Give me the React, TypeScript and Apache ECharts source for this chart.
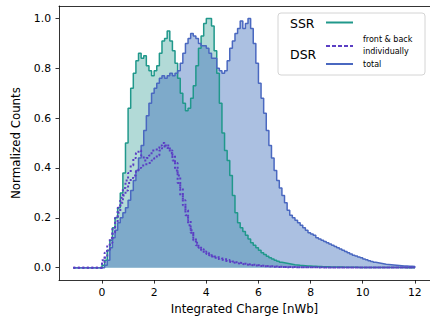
import React, { useEffect, useRef } from "react";
import * as echarts from "echarts";

// Histogram bins: left edge of first bin and bin width (nWb)
const BIN_START = -1.1;
const BIN_WIDTH = 0.1;

// SSR normalized counts, bins from -1.1 to 12.0
const SSR = [
  0, 0, 0, 0, 0, 0, 0, 0, 0, 0, 0,
  0.01, 0.03, 0.07, 0.11, 0.16, 0.2, 0.24, 0.3, 0.38, 0.5,
  0.64, 0.72, 0.78, 0.83, 0.86, 0.84, 0.85, 0.81, 0.79, 0.77,
  0.79, 0.81, 0.86, 0.91, 0.92, 0.95, 0.91, 0.87, 0.82, 0.76,
  0.7, 0.66, 0.63, 0.64, 0.68, 0.73, 0.81, 0.88, 0.93, 0.98,
  1.0, 1.0, 0.97, 0.87, 0.78, 0.66, 0.54, 0.47, 0.43, 0.37,
  0.29, 0.22, 0.18, 0.16, 0.145, 0.13, 0.115, 0.1, 0.09, 0.08,
  0.07, 0.06, 0.053, 0.046, 0.04, 0.035, 0.03, 0.026, 0.022, 0.02,
  0.018, 0.016, 0.014, 0.012, 0.011, 0.01, 0.009, 0.008, 0.007, 0.007,
  0.006, 0.006, 0.005, 0.005, 0.004, 0.004, 0.004, 0.003, 0.003, 0.003,
  0.003, 0.003, 0.002, 0.002, 0.002, 0.002, 0.002, 0.002, 0.001, 0.001,
  0.001, 0.001, 0.001, 0.001, 0.001, 0.001, 0.001, 0.001, 0.001, 0.001,
  0.001, 0.001, 0.001, 0.001, 0.001, 0.001, 0, 0, 0, 0,
];

// DSR total normalized counts
const DSR_TOTAL = [
  0, 0, 0, 0, 0, 0, 0, 0, 0, 0, 0,
  0.0, 0.01, 0.03, 0.08, 0.12, 0.15, 0.18, 0.2, 0.22, 0.24,
  0.27, 0.31, 0.35, 0.39, 0.44, 0.49, 0.55, 0.61, 0.66, 0.7,
  0.72, 0.74, 0.76, 0.77, 0.76, 0.77, 0.78, 0.77, 0.78, 0.79,
  0.82, 0.86, 0.9, 0.92, 0.94, 0.93, 0.92, 0.9, 0.89, 0.89,
  0.88, 0.86, 0.84, 0.84, 0.8, 0.79, 0.78, 0.79, 0.83, 0.88,
  0.91, 0.94, 0.96, 0.99, 0.96, 0.98, 1.0, 0.96, 0.9, 0.82,
  0.74, 0.68, 0.62, 0.55, 0.49, 0.44, 0.39, 0.35, 0.32, 0.29,
  0.26, 0.23, 0.21, 0.2, 0.19, 0.18, 0.17, 0.16, 0.15, 0.14,
  0.135, 0.13, 0.12, 0.115, 0.11, 0.105, 0.1, 0.095, 0.09, 0.085,
  0.08, 0.075, 0.07, 0.065, 0.06, 0.055, 0.05, 0.047, 0.043, 0.04,
  0.035, 0.032, 0.028, 0.025, 0.022, 0.02, 0.018, 0.016, 0.014, 0.013,
  0.012, 0.011, 0.01, 0.009, 0.008, 0.007, 0.007, 0.006, 0.006, 0.005,
];

// DSR front / back individually
const DSR_FRONT = [
  0, 0, 0, 0, 0, 0, 0, 0, 0, 0, 0,
  0.03, 0.06, 0.09, 0.12, 0.16, 0.2, 0.24, 0.28, 0.32, 0.35,
  0.38, 0.41, 0.44, 0.46, 0.47, 0.45, 0.43, 0.44, 0.45, 0.47,
  0.47, 0.48, 0.49, 0.5, 0.49, 0.48, 0.46, 0.43, 0.39, 0.34,
  0.29, 0.25, 0.21, 0.17, 0.14, 0.11, 0.09, 0.08, 0.07, 0.06,
  0.055, 0.05, 0.045, 0.04, 0.035, 0.032, 0.03, 0.027, 0.024, 0.022,
  0.02, 0.018, 0.016, 0.015, 0.013, 0.012, 0.011, 0.01, 0.009, 0.008,
  0.007, 0.006, 0.006, 0.005, 0.005, 0.004, 0.004, 0.003, 0.003, 0.003,
  0.002, 0.002, 0.002, 0.002, 0.002, 0.002, 0.002, 0.002, 0.002, 0.002,
  0.002, 0.002, 0.001, 0.001, 0.001, 0.001, 0.001, 0.001, 0.001, 0.001,
  0.001, 0.001, 0.001, 0.001, 0.001, 0.001, 0.001, 0.001, 0.001, 0.001,
  0.001, 0.001, 0.001, 0.001, 0.001, 0.001, 0.001, 0.001, 0.001, 0.001,
  0.001, 0.001, 0.001, 0.001, 0.001, 0.001, 0.001, 0.001, 0.001, 0.001,
];

const DSR_BACK = [
  0, 0, 0, 0, 0, 0, 0, 0, 0, 0, 0,
  0.02, 0.04, 0.07, 0.1, 0.14, 0.18, 0.22, 0.26, 0.29, 0.31,
  0.34, 0.36, 0.37, 0.39, 0.4, 0.41, 0.41, 0.42, 0.42, 0.43,
  0.44, 0.45, 0.47, 0.48, 0.49, 0.49, 0.47, 0.45, 0.42, 0.37,
  0.32, 0.27, 0.23, 0.19, 0.15, 0.12, 0.1, 0.085, 0.075, 0.065,
  0.06, 0.055, 0.05, 0.045, 0.042, 0.04, 0.037, 0.034, 0.031, 0.028,
  0.025, 0.022, 0.02, 0.018, 0.016, 0.014, 0.013, 0.012, 0.011, 0.01,
  0.009, 0.008, 0.007, 0.006, 0.006, 0.005, 0.005, 0.004, 0.004, 0.003,
  0.003, 0.003, 0.003, 0.003, 0.002, 0.002, 0.002, 0.002, 0.002, 0.002,
  0.002, 0.002, 0.002, 0.002, 0.002, 0.001, 0.001, 0.001, 0.001, 0.001,
  0.001, 0.001, 0.001, 0.001, 0.001, 0.001, 0.001, 0.001, 0.001, 0.001,
  0.001, 0.001, 0.001, 0.001, 0.001, 0.001, 0.001, 0.001, 0.001, 0.001,
  0.001, 0.001, 0.001, 0.001, 0.001, 0.001, 0.001, 0.001, 0.001, 0.001,
];

const X_TICKS = [0, 2, 4, 6, 8, 10, 12];
const Y_TICKS = [0, 0.2, 0.4, 0.6, 0.8, 1.0];

const FONT = "DejaVu Sans";
const TEAL = "#20988b";
const BLUE = "#4a68c0";
const PURPLE = "#5b3fc4";

function stepPoints(values: number[]) {
  const pts: number[][] = [[BIN_START, 0]];
  values.forEach((v, i) => {
    pts.push([+(BIN_START + i * BIN_WIDTH).toFixed(4), v]);
  });
  const end = +(BIN_START + values.length * BIN_WIDTH).toFixed(4);
  pts.push([end, values[values.length - 1]]);
  pts.push([end, 0]);
  return pts;
}

export default function App() {
  const ref = useRef<HTMLDivElement>(null);
  useEffect(() => {
    if (!ref.current) return;
    const chart = echarts.init(ref.current, null, { renderer: "svg" });
    const axisLineStyle = { color: "#000", width: 0.8 };
    chart.setOption({
      animation: false,
      grid: { left: 59, right: 0, top: 6, bottom: 36 },
      xAxis: [
        {
          type: "value",
          min: -1.65,
          max: 12.58,
          name: "Integrated Charge [nWb]",
          nameLocation: "middle",
          nameGap: 21,
          nameTextStyle: { fontFamily: FONT, fontSize: 11.8, color: "#000" },
          axisLine: { show: true, onZero: false, lineStyle: axisLineStyle },
          axisTick: { show: true, length: 3.5, customValues: X_TICKS, lineStyle: axisLineStyle },
          axisLabel: {
            customValues: X_TICKS,
            fontFamily: FONT,
            fontSize: 10.8,
            color: "#000",
            margin: 7,
          },
          splitLine: { show: false },
        },
        {
          type: "value",
          position: "top",
          min: -1.65,
          max: 12.58,
          axisLine: { show: true, onZero: false, lineStyle: axisLineStyle },
          axisTick: { show: false },
          axisLabel: { show: false },
          splitLine: { show: false },
        },
      ],
      yAxis: {
        type: "value",
        min: -0.05,
        max: 1.05,
        name: "Normalized Counts",
        nameLocation: "middle",
        nameGap: 37,
        nameTextStyle: { fontFamily: FONT, fontSize: 11.8, color: "#000" },
        axisLine: { show: true, onZero: false, lineStyle: axisLineStyle },
        axisTick: { show: true, length: 3.5, customValues: Y_TICKS, lineStyle: axisLineStyle },
        axisLabel: {
          customValues: Y_TICKS,
          formatter: (v: number) => v.toFixed(1),
          fontFamily: FONT,
          fontSize: 10.8,
          color: "#000",
          margin: 8,
        },
        splitLine: { show: false },
      },
      series: [
        {
          type: "line",
          step: "end",
          data: stepPoints(SSR),
          symbol: "none",
          silent: true,
          lineStyle: { color: TEAL, width: 1.5 },
          areaStyle: { color: "rgba(22,144,133,0.47)" },
        },
        {
          type: "line",
          step: "end",
          data: stepPoints(DSR_TOTAL),
          symbol: "none",
          silent: true,
          lineStyle: { color: BLUE, width: 1.5 },
          areaStyle: { color: "rgba(55,105,183,0.6)" },
        },
        {
          type: "line",
          step: "end",
          data: stepPoints(DSR_FRONT),
          symbol: "none",
          silent: true,
          lineStyle: { color: PURPLE, width: 2, type: [2, 2.5] },
        },
        {
          type: "line",
          step: "end",
          data: stepPoints(DSR_BACK),
          symbol: "none",
          silent: true,
          lineStyle: { color: PURPLE, width: 2, type: [2, 2.5] },
        },
      ],
      graphic: [
        {
          type: "rect",
          shape: { x: 278, y: 13, width: 147, height: 62, r: 3 },
          style: { fill: "rgba(255,255,255,0.85)", stroke: "#d4d4d4", lineWidth: 1 },
          z: 100,
        },
        {
          type: "text",
          x: 290,
          y: 23,
          style: { text: "SSR", fontFamily: FONT, fontSize: 12.5, fill: "#000", verticalAlign: "middle" },
          z: 101,
        },
        {
          type: "line",
          shape: { x1: 326, y1: 22.5, x2: 353, y2: 22.5 },
          style: { stroke: TEAL, lineWidth: 2 },
          z: 101,
        },
        {
          type: "text",
          x: 290,
          y: 54,
          style: { text: "DSR", fontFamily: FONT, fontSize: 12.5, fill: "#000", verticalAlign: "middle" },
          z: 101,
        },
        {
          type: "line",
          shape: { x1: 326, y1: 46, x2: 353, y2: 46 },
          style: { stroke: PURPLE, lineWidth: 2, lineDash: [4, 2] },
          z: 101,
        },
        {
          type: "text",
          x: 363,
          y: 39.5,
          style: { text: "front & back", fontFamily: FONT, fontSize: 8, fill: "#000", verticalAlign: "middle" },
          z: 101,
        },
        {
          type: "text",
          x: 363,
          y: 51,
          style: { text: "individually", fontFamily: FONT, fontSize: 8, fill: "#000", verticalAlign: "middle" },
          z: 101,
        },
        {
          type: "line",
          shape: { x1: 326, y1: 64, x2: 353, y2: 64 },
          style: { stroke: BLUE, lineWidth: 2 },
          z: 101,
        },
        {
          type: "text",
          x: 363,
          y: 64,
          style: { text: "total", fontFamily: FONT, fontSize: 8, fill: "#000", verticalAlign: "middle" },
          z: 101,
        },
      ],
    });
    return () => chart.dispose();
  }, []);
  return (
    <div
      ref={ref}
      style={{ position: "fixed", left: 0, top: 0, width: 430, height: 320, background: "#fff" }}
    />
  );
}
